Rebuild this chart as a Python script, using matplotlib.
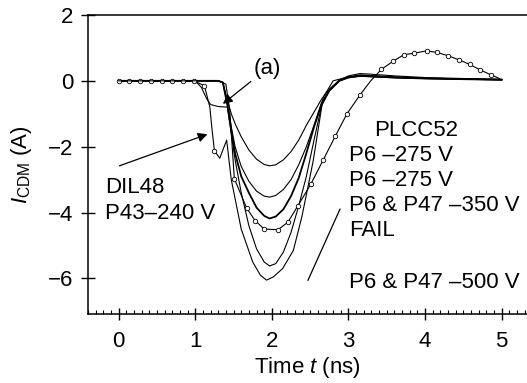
import numpy as np
import matplotlib
matplotlib.use('Agg')
import matplotlib.pyplot as plt
from matplotlib.ticker import MultipleLocator

plt.rcParams['font.family'] = ['Liberation Sans', 'DejaVu Sans']
plt.rcParams['mathtext.fontset'] = 'custom'
plt.rcParams['mathtext.rm'] = 'Liberation Sans'
plt.rcParams['mathtext.it'] = 'Liberation Sans:italic'

# shared time base for the PLCC52 family (ns)
t_main = [0, 1.3, 1.36, 1.42, 1.47, 1.52, 1.6, 1.7, 1.8, 1.9, 1.97, 2.05, 2.15, 2.25,
          2.35, 2.45, 2.55, 2.65, 2.75, 2.88, 3.0, 3.15, 3.3, 3.6, 4.0, 4.5, 5.0]
i_a = [0, 0, -0.05, -0.6, -1.0, -1.3, -1.7, -2.1, -2.38, -2.54, -2.58, -2.55, -2.4, -2.15,
       -1.8, -1.35, -0.95, -0.55, -0.25, 0.02, 0.15, 0.22, 0.2, 0.15, 0.1, 0.07, 0.05]
i_b = [0, 0, -0.05, -0.7, -1.4, -2.0, -2.6, -3.05, -3.35, -3.5, -3.53, -3.48, -3.3, -3.0,
       -2.55, -2.0, -1.35, -0.65, -0.3, 0.0, 0.12, 0.18, 0.16, 0.12, 0.08, 0.06, 0.04]
i_c = [0, 0, -0.05, -0.75, -1.5, -2.2, -2.9, -3.4, -3.85, -4.1, -4.18, -4.12, -3.9, -3.5,
       -2.95, -2.2, -1.4, -0.7, -0.3, 0.0, 0.1, 0.15, 0.14, 0.1, 0.07, 0.05, 0.03]

# curve (a): early step to -0.8 A, then deep pulse
t_e = [0, 1.0, 1.08, 1.15, 1.2, 1.3, 1.42, 1.47, 1.52, 1.6, 1.7, 1.8, 1.9, 1.97, 2.05,
       2.15, 2.25, 2.35, 2.45, 2.55, 2.65, 2.75, 2.88, 3.0, 3.15, 3.3, 3.6, 4.0, 4.5, 5.0]
i_e = [0, 0, -0.2, -0.55, -0.72, -0.78, -0.8, -1.6, -2.4, -3.4, -4.4, -5.1, -5.5, -5.62, -5.55,
       -5.2, -4.6, -3.8, -2.9, -1.8, -0.75, -0.3, 0.0, 0.1, 0.14, 0.12, 0.1, 0.07, 0.05, 0.03]

# DIL48 P43 -240 V
t_dil = [0, 0.14, 0.28, 0.42, 0.56, 0.70, 0.84, 0.98, 1.12, 1.19, 1.22, 1.25, 1.32, 1.36,
         1.41, 1.47, 1.6, 1.75, 1.85, 1.93, 2.02, 2.14, 2.28, 2.39, 2.47, 2.54, 2.67, 2.8,
         3.0, 3.2, 3.5, 4.0, 4.5, 5.0]
i_dil = [0, 0, 0, 0, 0, 0, 0, 0, -0.15, -0.8, -1.5, -2.12, -2.35, -2.1, -1.8, -3.0, -4.5,
         -5.5, -5.9, -6.05, -5.95, -5.7, -5.15, -4.14, -3.23, -2.42, -0.5, 0.0, 0.12, 0.15,
         0.1, 0.07, 0.05, 0.03]
dil_marks = [0, 1, 2, 3, 4, 5, 6, 7, 8, 11]

# P6 & P47 -500 V (slow, overshooting curve)
t_slow = [0, 1.3, 1.4, 1.45, 1.51, 1.67, 1.78, 1.9, 2.08, 2.21, 2.34, 2.51, 2.67, 2.83, 2.98,
          3.15, 3.29, 3.43, 3.58, 3.72, 3.86, 4.02, 4.16, 4.3, 4.44, 4.58, 4.72, 4.86, 4.97]
i_slow = [0, 0, -0.1, -0.9, -2.97, -3.86, -4.24, -4.5, -4.52, -4.29, -3.79, -3.13, -2.4, -1.67,
          -1.0, -0.43, 0.0, 0.35, 0.59, 0.79, 0.84, 0.91, 0.86, 0.76, 0.64, 0.5, 0.33, 0.18, 0.07]
slow_marks = [4, 5, 6, 7, 8, 9, 10, 11, 12, 13, 14, 15, 17, 18, 19, 20, 21, 22, 23, 24, 25,
              26, 27]

plcc_lines = ['PLCC52', 'P6 \u2013275 V', 'P6 \u2013275 V', 'P6 & P47 \u2013350 V', 'FAIL',
              'P6 & P47 \u2013500 V']

fs = 16

fig = plt.figure(figsize=(5.27, 3.83), dpi=100)
ax = fig.add_axes([0.167, 0.180, 0.833, 0.781])

lw = 0.8
mk = dict(marker='o', markersize=3.2, markerfacecolor='white', markeredgecolor='black',
          markeredgewidth=0.6)
ax.plot(t_main, i_a, color='black', lw=lw)
ax.plot(t_main, i_b, color='black', lw=lw)
ax.plot(t_main, i_c, color='black', lw=1.3)
ax.plot(t_e, i_e, color='black', lw=lw)
ax.plot(t_dil, i_dil, color='black', lw=lw, markevery=dil_marks, **mk)
ax.plot(t_slow, i_slow, color='black', lw=lw, markevery=slow_marks, **mk)

ax.set_xlim(-0.4, 5.33)
ax.set_ylim(-7.08, 2)
ax.xaxis.set_major_locator(MultipleLocator(1))
ax.xaxis.set_minor_locator(MultipleLocator(0.1))
ax.tick_params(axis='x', which='major', direction='inout', length=9, width=1, labelsize=fs, pad=8)
ax.tick_params(axis='x', which='minor', direction='in', length=3, width=0.8)
ax.tick_params(axis='y', which='major', direction='inout', length=9.5, width=1, labelsize=fs, pad=6)
ax.set_yticks([-6, -4, -2, 0, 2])
ax.set_yticklabels(['\u22126', '\u22124', '\u22122', '0', '2'])
ax.spines['right'].set_visible(False)
for s in ['left', 'bottom', 'top']:
    ax.spines[s].set_linewidth(1.1)

ax.set_xlabel('Time $\\mathit{t}$ (ns)', fontsize=fs, labelpad=2)
ax.set_ylabel('$\\mathit{I}_{\\mathrm{CDM}}$ (A)', fontsize=fs, labelpad=10)

# annotations
arr = dict(arrowstyle='-|>', color='black', lw=0.9, mutation_scale=14, shrinkA=0, shrinkB=0)
ax.annotate('(a)', xy=(1.36, -0.7), xytext=(1.94, 0.06), fontsize=fs,
            ha='center', va='bottom', arrowprops=arr)
ax.annotate('', xy=(1.16, -1.62), xytext=(0.01, -2.58), arrowprops=arr)
ax.text(-0.18, -3.24, 'DIL48', fontsize=fs, ha='left', va='center')
ax.text(-0.18, -4.03, 'P43\u2013240 V', fontsize=fs, ha='left', va='center')

ax.text(3.88, -1.52, plcc_lines[0], fontsize=fs, ha='center', va='center')
for k, yy in enumerate([-2.27, -3.03, -3.79, -4.55, -6.11]):
    ax.text(3.01, yy, plcc_lines[k + 1], fontsize=fs, ha='left', va='center')
ax.annotate('', xy=(2.47, -6.06), xytext=(2.89, -3.89),
            arrowprops=dict(arrowstyle='-', color='black', lw=0.9, shrinkA=0, shrinkB=0))

fig.savefig('out.png', dpi=100)
